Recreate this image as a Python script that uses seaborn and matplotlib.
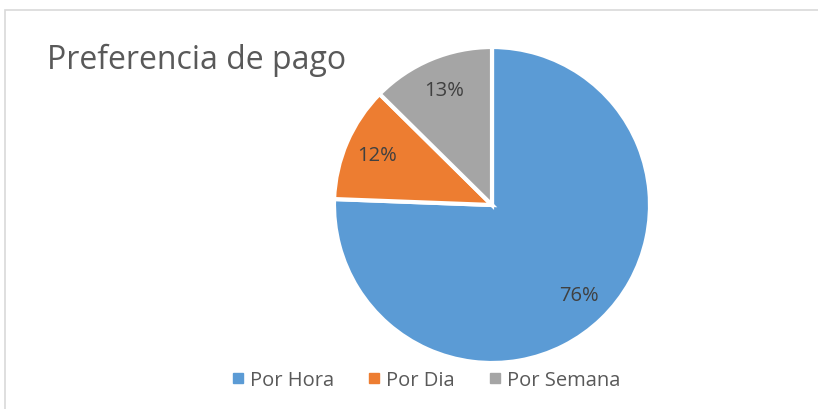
import matplotlib
matplotlib.use("Agg")
import matplotlib.pyplot as plt
from matplotlib.patches import Rectangle
from matplotlib.lines import Line2D
import seaborn as sns

# data
categorias = ["Por Hora", "Por Dia", "Por Semana"]
valores = [75.6, 11.8, 12.6]
colores = ["#5B9BD5", "#ED7D31", "#A5A5A5"]

sns.set_theme(style="white")
plt.rcParams["font.family"] = ["Open Sans", "DejaVu Sans"]

W, H = 818, 410
fig = plt.figure(figsize=(W / 100, H / 100), dpi=100)

# frame of the chart area (right/bottom run off the image)
fig.patches.append(Rectangle((5 / W, -0.05), 1.05, 1 - 11 / H + 0.05,
                             transform=fig.transFigure, fill=False,
                             edgecolor="#D9D9D9", linewidth=1.2))

cx, cy, r = 492, 206, 158
ax = fig.add_axes([(cx - r) / W, (H - cy - r) / H, 2 * r / W, 2 * r / H])
wedges, texts, autotexts = ax.pie(
    valores, colors=colores, startangle=90, counterclock=False,
    autopct="%.0f%%", pctdistance=0.79,
    wedgeprops=dict(edgecolor="white", linewidth=3),
    textprops=dict(color="#404040", fontsize=14.5))
ax.set_xlim(-1, 1)
ax.set_ylim(-1, 1)
ax.set_aspect("equal")
ax.axis("off")

fig.text(47 / W, 1 - 60 / H, "Preferencia de pago", fontsize=23,
         color="#595959", va="center", ha="left")

handles = [Line2D([], [], marker="s", linestyle="", markersize=7,
                  markerfacecolor=c, markeredgecolor=c) for c in colores]
fig.legend(handles, categorias, loc="center", bbox_to_anchor=(424 / W, 1 - 381 / H),
           ncol=3, frameon=False, fontsize=14.5, handletextpad=0.1,
           columnspacing=1.5, labelcolor="#595959", handlelength=1.0)

fig.savefig("out.png", dpi=100)
